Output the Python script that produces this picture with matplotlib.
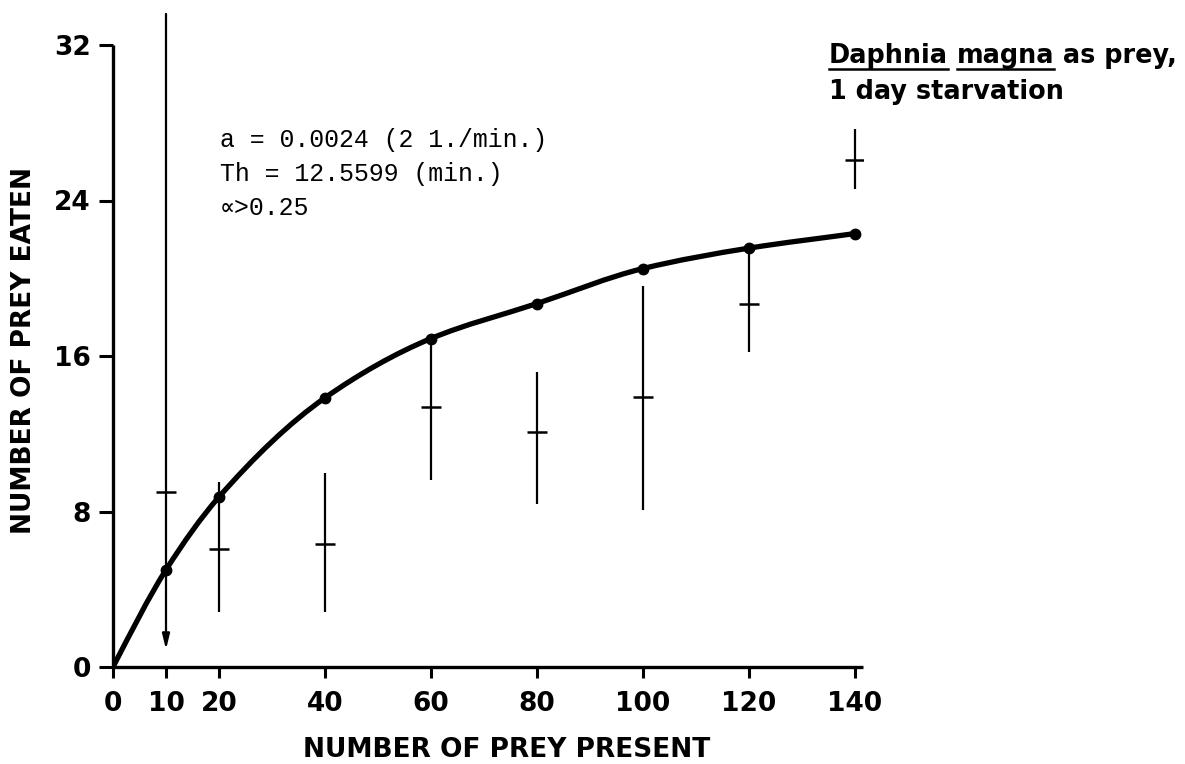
import numpy as np
import matplotlib
matplotlib.use("Agg")
import matplotlib.pyplot as plt
from matplotlib.path import Path
from matplotlib.patches import PathPatch

# Prey density offered
prey_present = [10, 20, 40, 60, 80, 100, 120, 140]
# Fitted functional-response values (dots on the curve)
fitted_eaten = [5.0, 8.75, 13.85, 16.9, 18.7, 20.5, 21.55, 22.3]
# Observed means and their ranges
mean_eaten = [9.0, 6.05, 6.35, 13.4, 12.1, 13.9, 18.7, 26.1]
range_high = [33.6, 9.5, 10.0, 16.9, 15.2, 19.6, 21.55, 27.7]
range_low = [0.9, 2.85, 2.85, 9.6, 8.4, 8.1, 16.2, 24.6]

x_ticks = [0, 10, 20, 40, 60, 80, 100, 120, 140]
y_ticks = [0, 8, 16, 24, 32]

param_lines = ["a = 0.0024 (2 1./min.)", "Th = 12.5599 (min.)", "\u221d>0.25"]

BOLD = dict(family=["DejaVu Sans"], weight="bold")
MONO = dict(family=["Liberation Mono", "DejaVu Sans Mono"])

W, H = 1185, 764
fig = plt.figure(figsize=(W / 100, H / 100), dpi=100)
ax = fig.add_axes([113 / W, 97 / H, 750 / W, 622 / H])
ax.set_xlim(0, 141.5)
ax.set_ylim(0, 32)

for side in ("top", "right"):
    ax.spines[side].set_visible(False)
for side in ("left", "bottom"):
    ax.spines[side].set_linewidth(2.4)
    ax.spines[side].set_capstyle("butt")

ax.set_xticks(x_ticks)
ax.set_yticks(y_ticks)
ax.set_xticklabels([str(t) for t in x_ticks], fontsize=19, **BOLD)
ax.set_yticklabels([str(t) for t in y_ticks], fontsize=19, **BOLD)
ax.tick_params(axis="x", length=8, width=2.2, pad=9, direction="out")
ax.tick_params(axis="y", length=10, width=2.2, pad=6, direction="out")

ax.set_xlabel("NUMBER OF PREY PRESENT", fontsize=19, **BOLD)
ax.set_ylabel("NUMBER OF PREY EATEN", fontsize=19, **BOLD)
ax.xaxis.label.set_va("center")
ax.yaxis.label.set_va("center")
ax.xaxis.set_label_coords((507 - 113) / 750, (667 - 750) / 622)
ax.yaxis.set_label_coords((24 - 113) / 750, (667 - 350) / 622)

# Smooth fitted curve through the origin and the fitted values:
# monotone cubic Hermite segments drawn as Bezier curves
px = np.array([0] + prey_present, dtype=float)
py = np.array([0] + fitted_eaten, dtype=float)
h = np.diff(px)
d = np.diff(py) / h
m = np.zeros_like(px)
for k in range(1, len(px) - 1):
    if d[k - 1] * d[k] > 0:
        w1 = 2 * h[k] + h[k - 1]
        w2 = h[k] + 2 * h[k - 1]
        m[k] = (w1 + w2) / (w1 / d[k - 1] + w2 / d[k])
m[0] = d[0] * 1.05
m[-1] = d[-1]
verts = [(px[0], py[0])]
codes = [Path.MOVETO]
for k in range(len(px) - 1):
    verts += [(px[k] + h[k] / 3, py[k] + m[k] * h[k] / 3),
              (px[k + 1] - h[k] / 3, py[k + 1] - m[k + 1] * h[k] / 3),
              (px[k + 1], py[k + 1])]
    codes += [Path.CURVE4] * 3
ax.add_patch(PathPatch(Path(verts, codes), facecolor="none", edgecolor="black",
                       lw=3.8, capstyle="round", joinstyle="round", zorder=3))
ax.plot(prey_present, fitted_eaten, "o", color="black", ms=7.5, zorder=4)

# Observed ranges and means
ax.vlines(prey_present[1:], range_low[1:], range_high[1:], color="black", lw=1.6, zorder=2)
ax.plot(prey_present, mean_eaten, "_", color="black", ms=14, mew=1.8, zorder=2)

# Range at the lowest density runs off the top of the plot and ends in an arrow
ax.annotate("", xy=(prey_present[0], range_low[0]), xytext=(prey_present[0], range_high[0]),
            annotation_clip=False,
            arrowprops=dict(arrowstyle="-|>,head_length=0.9,head_width=0.22",
                            color="black", lw=1.6, shrinkA=0, shrinkB=0))

# Parameter annotations
for i, line in enumerate(param_lines):
    fig.text(220 / W, 1 - (140 + 34 * i) / H, line, fontsize=17.9, va="center",
             ha="left", **MONO)

# Title with underlined species name
fig.canvas.draw()
renderer = fig.canvas.get_renderer()
x0 = 829 / W
y_line1 = 1 - 63 / H
x_cur = x0
pieces = [("Daphnia", True), (" ", False), ("magna", True), (" as prey,", False)]
for txt, underline in pieces:
    t = fig.text(x_cur, y_line1, txt, fontsize=18.4, va="baseline", ha="left", **BOLD)
    bb = t.get_window_extent(renderer=renderer)
    if underline:
        uy = y_line1 - 6 / H
        fig.add_artist(plt.Line2D([bb.x0 / W, bb.x1 / W], [uy, uy],
                                  color="black", lw=1.8))
    x_cur = bb.x1 / W
fig.text(x0, 1 - 99 / H, "1 day starvation", fontsize=18.4, va="baseline", ha="left", **BOLD)

fig.savefig("out.png", dpi=100)
